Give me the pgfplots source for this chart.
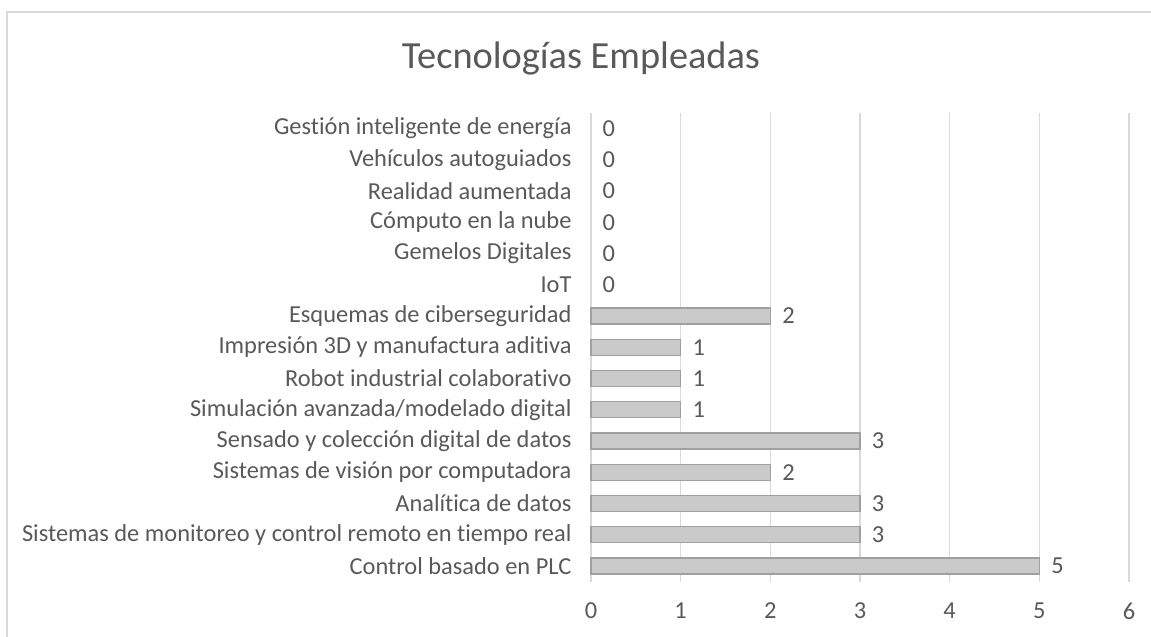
\documentclass[border=0pt]{standalone}
\usepackage{pgfplots}
\pgfplotsset{compat=1.18}
\usepackage{fontspec}
\setmainfont{Carlito}[Ligatures={NoCommon}]
\definecolor{txt}{HTML}{595959}
\definecolor{grid}{HTML}{D9D9D9}
\definecolor{barline}{HTML}{A0A0A0}
\definecolor{barfill}{HTML}{CACACA}
\begin{document}
\begin{tikzpicture}[x=1bp,y=1bp]
\path[use as bounding box] (0,0) rectangle (1151,637);
\begin{scope}
\clip (0,0) rectangle (1151,637);
\draw[grid, line width=1.2bp] (7,625) rectangle (1170,-20);
\end{scope}
\node[text=txt, font=\fontsize{38.5}{44}\selectfont] at (581,579) {Tecnologías Empleadas};
\begin{axis}[
  at={(591bp,55.4bp)}, anchor=south west,
  scale only axis, width=538bp, height=468.6bp,
  xmin=0, xmax=6, ymin=-0.5, ymax=14.5,
  xtick={0,1,2,3,4,5,6},
  ytick={0,...,14},
  yticklabels={Control basado en PLC,
    Sistemas de monitoreo y control remoto en tiempo real,
    Analítica de datos,
    Sistemas de visión por computadora,
    Sensado y colección digital de datos,
    Simulación avanzada/modelado digital,
    Robot industrial colaborativo,
    Impresión 3D y manufactura aditiva,
    Esquemas de ciberseguridad,
    IoT,
    Gemelos Digitales,
    Cómputo en la nube,
    Realidad aumentada,
    Vehículos autoguiados\hspace{5.5bp},
    Gestión inteligente de energía},
  axis lines*=left,
  x axis line style={draw=none},
  y axis line style={draw=grid, line width=1.2bp},
  major tick length=0pt,
  xmajorgrids,
  major grid style={draw=grid, line width=1.2bp},
  /pgf/number format/assume math mode=true,
  tick label style={text=txt, font=\fontsize{24.5}{28}\selectfont},
  xticklabel style={yshift=-18bp},
  yticklabel style={xshift=-16bp},
  xbar, bar width=16bp, bar shift=0pt,
  nodes near coords,
  every node near coord/.append style={text=txt, font=\fontsize{24.5}{28}\selectfont, anchor=west, xshift=8bp},
  clip=false,
]
\addplot[draw=barline, line width=1.2bp, fill=barfill] coordinates {
(5,0) (3,1) (3,2) (2,3) (3,4) (1,5) (1,6) (1,7) (2,8)};
\addplot[draw=none, fill=none] coordinates {
(0,9) (0,10) (0,11) (0,12) (0,13) (0,14)};
\end{axis}
\end{tikzpicture}
\end{document}
